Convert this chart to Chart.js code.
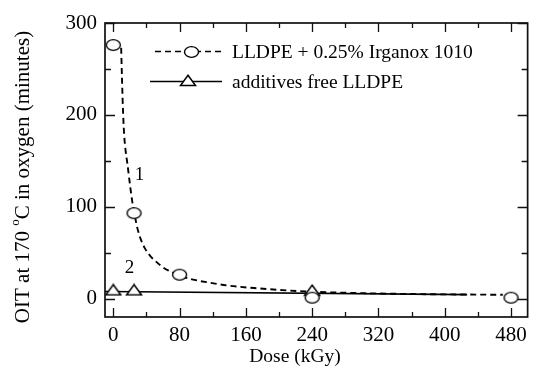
<!DOCTYPE html>
<html>
<head>
<meta charset="utf-8">
<script src="https://cdn.jsdelivr.net/npm/chart.js@4.4.1/dist/chart.umd.min.js"></script>
<style>
  html, body { margin: 0; padding: 0; background: #fff; }
  #wrap { width: 533px; height: 372px; }
</style>
</head>
<body>
<div id="wrap"><canvas id="c" width="533" height="372"></canvas></div>
<script>
// Measured oxidation induction times (OIT) versus irradiation dose
const doseIrganox = [0, 25, 80, 240, 480];
const oitIrganox = [276, 93, 26, 1, 1];
const doseFree = [0, 25, 240];
const oitFree = [9.5, 9.5, 9];

// Fitted trend curves
const fitIrganoxDose = [9.5, 10.5, 11.5, 13, 15, 17, 20, 23, 26, 29, 33, 38, 45, 52, 60, 70, 80, 95, 115, 140, 170, 200, 240, 300, 360, 420, 470];
const fitIrganoxOit = [273, 240, 210, 180, 160, 147, 125, 105, 90, 77, 65, 55, 46, 40, 34, 29, 25, 21, 17.5, 14, 11.5, 9.5, 7.5, 6, 5, 4.5, 4.2];
const fitFreeDose = [-10, 427];
const fitFreeOit = [7.8, 4.3];

// Axis ticks
const xTicks = [0, 80, 160, 240, 320, 400, 480];
const xMinorTicks = [40, 120, 200, 280, 360, 440];
const yTicks = [0, 100, 200, 300];
const yMinorTicks = [50, 150, 250];

const seriesNames = ['LLDPE + 0.25% Irganox 1010', 'additives free LLDPE'];
const curveLabels = [
  { text: '1', x: 31.6, y: 134 },
  { text: '2', x: 19.6, y: 33 }
];

const SERIF = '"Liberation Serif", "Times New Roman", serif';
const DASH = [6, 4];

function toPoints(xs, ys) { return xs.map((x, i) => ({ x: x, y: ys[i] })); }

// Open marker images: ellipse and upward triangle
function makeEllipse() {
  const c = document.createElement('canvas');
  c.width = 17; c.height = 14;
  const g = c.getContext('2d');
  g.fillStyle = 'rgba(255,255,255,0)';
  g.beginPath();
  g.ellipse(8.5, 7, 7, 5.4, 0, 0, Math.PI * 2);
  g.fillStyle = '#ffffff'; g.fill();
  g.lineWidth = 1.4; g.strokeStyle = '#000'; g.stroke();
  return c;
}
function makeTriangle() {
  const c = document.createElement('canvas');
  c.width = 18; c.height = 13;
  const g = c.getContext('2d');
  g.beginPath();
  g.moveTo(9, 1.3); g.lineTo(16.5, 11.5); g.lineTo(1.5, 11.5); g.closePath();
  g.fillStyle = '#ffffff'; g.fill();
  g.lineWidth = 1.5; g.strokeStyle = '#000'; g.lineJoin = 'miter'; g.stroke();
  return c;
}
const ellipseImg = makeEllipse();
const triangleImg = makeTriangle();

const decorPlugin = {
  id: 'decor',
  afterDatasetsDraw(chart) {
    const ctx = chart.ctx;
    const a = chart.chartArea;
    const xs = chart.scales.x, ys = chart.scales.y;
    ctx.save();
    // frame
    ctx.strokeStyle = '#111';
    ctx.lineWidth = 1.7;
    ctx.strokeRect(a.left, a.top, a.right - a.left, a.bottom - a.top);
    // inward ticks on all four sides
    ctx.lineWidth = 1.3;
    ctx.beginPath();
    const tickX = (vals, len) => vals.forEach(v => {
      const px = Math.round(xs.getPixelForValue(v)) + 0.5;
      ctx.moveTo(px, a.bottom); ctx.lineTo(px, a.bottom - len);
      ctx.moveTo(px, a.top); ctx.lineTo(px, a.top + len);
    });
    const tickY = (vals, len) => vals.forEach(v => {
      const py = Math.round(ys.getPixelForValue(v)) + 0.5;
      ctx.moveTo(a.left, py); ctx.lineTo(a.left + len, py);
      ctx.moveTo(a.right, py); ctx.lineTo(a.right - len, py);
    });
    tickX(xTicks, 9); tickX(xMinorTicks, 5);
    tickY(yTicks, 10); tickY(yMinorTicks, 6);
    ctx.stroke();

    // curve numbers
    ctx.fillStyle = '#000';
    ctx.font = '19px ' + SERIF;
    ctx.textAlign = 'center';
    ctx.textBaseline = 'middle';
    curveLabels.forEach(l => {
      ctx.fillText(l.text, xs.getPixelForValue(l.x), ys.getPixelForValue(l.y));
    });

    // legend
    const rows = [
      { y: 51.5, dash: DASH, img: ellipseImg, x0: 155, x1: 223 },
      { y: 81.5, dash: [], img: triangleImg, x0: 150, x1: 222 }
    ];
    rows.forEach((r, i) => {
      ctx.strokeStyle = '#000';
      ctx.lineWidth = 1.7;
      ctx.setLineDash(r.dash);
      ctx.beginPath();
      ctx.moveTo(r.x0, r.y); ctx.lineTo(r.x1, r.y);
      ctx.stroke();
      ctx.setLineDash([]);
      const cx = (r.x0 + r.x1) / 2 + 2;
      ctx.drawImage(r.img, Math.round(cx - r.img.width / 2), Math.round(r.y - r.img.height / 2 - (i === 1 ? 1 : 0)));
      ctx.textAlign = 'left';
      ctx.textBaseline = 'middle';
      ctx.font = '19.5px ' + SERIF;
      ctx.fillText(seriesNames[i], 232, r.y + 1);
    });

    // axis titles
    ctx.font = '19.5px ' + SERIF;
    ctx.textAlign = 'center';
    ctx.textBaseline = 'middle';
    ctx.fillText('Dose (kGy)', 295, 357);

    ctx.translate(23, 177);
    ctx.rotate(-Math.PI / 2);
    const bigFont = '21px ' + SERIF, supFont = '13px ' + SERIF;
    const parts = [
      { t: 'OIT at 170 ', f: bigFont, dy: 0 },
      { t: 'o', f: supFont, dy: -7 },
      { t: 'C in oxygen (minutes)', f: bigFont, dy: 0 }
    ];
    let total = 0;
    parts.forEach(p => { ctx.font = p.f; p.w = ctx.measureText(p.t).width; total += p.w; });
    let x = -total / 2;
    ctx.textAlign = 'left';
    parts.forEach(p => { ctx.font = p.f; ctx.fillText(p.t, x, p.dy); x += p.w; });
    ctx.restore();
  }
};

new Chart(document.getElementById('c'), {
  type: 'scatter',
  data: {
    datasets: [
      {
        label: seriesNames[0],
        data: toPoints(doseIrganox, oitIrganox),
        showLine: false,
        pointStyle: ellipseImg,
        order: 0
      },
      {
        label: seriesNames[1],
        data: toPoints(doseFree, oitFree),
        showLine: false,
        pointStyle: triangleImg,
        order: 0
      },
      {
        label: 'fit 1',
        data: toPoints(fitIrganoxDose, fitIrganoxOit),
        showLine: true,
        borderColor: '#000',
        borderWidth: 1.9,
        borderDash: DASH,
        cubicInterpolationMode: 'monotone',
        pointRadius: 0,
        order: 1
      },
      {
        label: 'fit 2',
        data: toPoints(fitFreeDose, fitFreeOit),
        showLine: true,
        borderColor: '#000',
        borderWidth: 1.6,
        pointRadius: 0,
        order: 1
      }
    ]
  },
  options: {
    responsive: false,
    animation: false,
    layout: { padding: { left: 0, top: 23, right: 3, bottom: 0 } },
    plugins: { legend: { display: false }, tooltip: { enabled: false } },
    scales: {
      x: {
        type: 'linear',
        min: -10, max: 500,
        grid: { display: false, drawTicks: false },
        border: { display: false },
        afterBuildTicks: s => { s.ticks = xTicks.map(v => ({ value: v })); },
        afterFit: s => { s.height = 55; },
        ticks: { color: '#000', font: { family: SERIF, size: 21 }, padding: 6, maxRotation: 0, autoSkip: false }
      },
      y: {
        type: 'linear',
        min: -20, max: 300,
        grid: { display: false, drawTicks: false },
        border: { display: false },
        afterBuildTicks: s => { s.ticks = yTicks.map(v => ({ value: v })); },
        afterFit: s => { s.width = 105; },
        ticks: { color: '#000', font: { family: SERIF, size: 21 }, padding: 8, autoSkip: false }
      }
    }
  },
  plugins: [decorPlugin]
});
</script>
</body>
</html>
